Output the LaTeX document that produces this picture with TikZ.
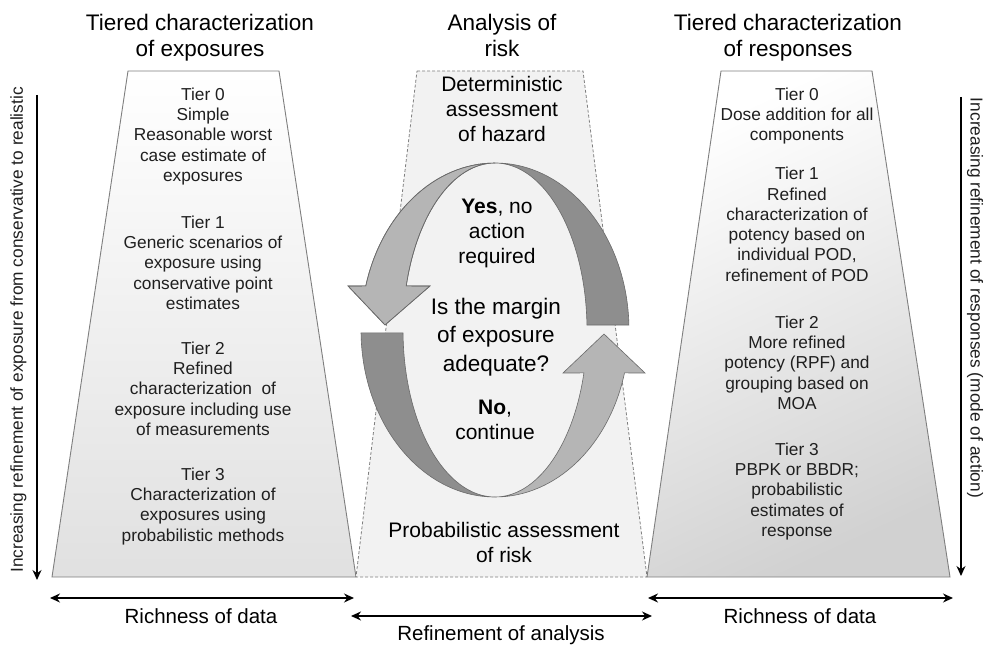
\documentclass[tikz,border=0pt]{standalone}
\usepackage{fontspec}
\setmainfont{Liberation Sans}
\usetikzlibrary{arrows.meta,calc}
\newcommand\fside{\fontsize{17.3}{20.3}\selectfont}
\newcommand\ftitle{\fontsize{22.5}{26}\selectfont}
\newcommand\fmid{\fontsize{21}{25}\selectfont}
\newcommand\fques{\fontsize{22.5}{28.5}\selectfont}
\newcommand\fbot{\fontsize{20.5}{24}\selectfont}
\definecolor{bandlight}{HTML}{B5B5B5}
\definecolor{banddark}{HTML}{8E8E8E}
\definecolor{bandedge}{HTML}{6A6A6A}
\definecolor{trapedge}{HTML}{7F7F7F}
\begin{document}
\begin{tikzpicture}[x=1pt,y=-1pt,
  trap/.style={draw=trapedge, line width=0.9pt},
  ctrap/.style={draw=trapedge, line width=0.8pt, dash pattern=on 3pt off 2pt, fill=black!5},
  lightband/.style={fill=bandlight, draw=bandedge, line width=0.6pt},
  darkband/.style={fill=banddark, draw=bandedge, line width=0.6pt},
  sidetxt/.style={font=\fside, align=center, inner sep=0pt, anchor=north, text=black!88},
  titletxt/.style={font=\ftitle, align=center, inner sep=0pt, anchor=north},
  midtxt/.style={font=\fmid, align=center, inner sep=0pt, anchor=north},
  quest/.style={font=\fques, align=center, inner sep=0pt, anchor=north},
  bottxt/.style={font=\fbot, inner sep=0pt, anchor=base},
  vtxt/.style={font=\fside, inner sep=0pt, text=black!88},
  dblarrow/.style={{Stealth[length=10pt,width=9pt]}-{Stealth[length=10pt,width=9pt]}, line width=1.4pt},
  vertarrow/.style={-{Stealth[length=10pt,width=9pt]}, line width=1.2pt}
]
\useasboundingbox (0,0) rectangle (986,647);

% trapezoids
\draw[trap, top color=white, bottom color=black!12] (128,71) -- (279,71) -- (356,577) -- (52,577) -- cycle;
\draw[ctrap] (417,71) -- (583,71) -- (647,577) -- (356,577) -- cycle;
\draw[trap, top color=white, bottom color=black!18, shading angle=25] (721,71) -- (872,71) -- (950,577) -- (647,577) -- cycle;

% circular arrows
\coordinate (c) at (495,330);
\fill[lightband] ($(c)+(164.7:134pt and 167pt)$)
  arc[start angle=164.7, end angle=90, x radius=134pt, y radius=167pt]
  arc[start angle=90, end angle=164.7, x radius=92pt, y radius=167pt]
  -- (430,286) -- (385,325) -- (348,286) -- cycle;
\filldraw[darkband] ($(c)+(181:134pt and 167pt)$)
  arc[start angle=181, end angle=270, x radius=134pt, y radius=167pt]
  arc[start angle=270, end angle=181, x radius=92pt, y radius=167pt] -- cycle;
\filldraw[darkband] ($(c)+(1.7:134pt and 167pt)$)
  arc[start angle=1.7, end angle=90, x radius=134pt, y radius=167pt]
  arc[start angle=90, end angle=1.7, x radius=92pt, y radius=167pt] -- cycle;
\filldraw[lightband] ($(c)+(-14.9:134pt and 167pt)$)
  arc[start angle=-14.9, end angle=-90, x radius=134pt, y radius=167pt]
  arc[start angle=-90, end angle=-14.9, x radius=92pt, y radius=167pt]
  -- (563,373) -- (604,334) -- (645,373) -- cycle;
\draw[lightband, fill=none] ($(c)+(164.7:134pt and 167pt)$)
  arc[start angle=164.7, end angle=90, x radius=134pt, y radius=167pt]
  arc[start angle=90, end angle=164.7, x radius=92pt, y radius=167pt]
  -- (430,286) -- (385,325) -- (348,286) -- cycle;

% titles
\node[titletxt] (t1) at (200,11.8) {\strut Tiered characterization\\of exposures};
\node[titletxt] (t2) at (502,11.8) {\strut Analysis of\\risk};
\node[titletxt] (t3) at (788,11.8) {\strut Tiered characterization\\of responses};

% left column
\node[sidetxt] (l0) at (203,85.8) {\strut Tier 0\\Simple\\Reasonable worst\\case estimate of\\exposures};
\node[sidetxt] (l1) at (203,213.8) {\strut Tier 1\\Generic scenarios of\\exposure using\\conservative point\\estimates};
\node[sidetxt] (l2) at (203,339.8) {\strut Tier 2\\Refined\\characterization\ \ of\\exposure including use\\of measurements};
\node[sidetxt] (l3) at (203,465.8) {\strut Tier 3\\Characterization of\\exposures using\\probabilistic methods};

% right column
\node[sidetxt] (r0) at (797,85.8) {\strut Tier 0\\Dose addition for all\\components};
\node[sidetxt] (r1) at (797,165.3) {\strut Tier 1\\Refined\\characterization of\\potency based on\\individual POD,\\refinement of POD};
\node[sidetxt] (r2) at (797,313.8) {\strut Tier 2\\More refined\\potency (RPF) and\\grouping based on\\MOA};
\node[sidetxt] (r3) at (797,440.8) {\strut Tier 3\\PBPK or BBDR;\\probabilistic\\estimates of\\response};

% centre texts
\node[midtxt] (m0) at (502,73.5) {\strut Deterministic\\assessment\\of hazard};
\node[midtxt] (m1) at (497,195.5) {\strut\textbf{Yes}, no\\action\\required};
\node[quest] (m2) at (496,294) {\strut Is the margin\\of exposure\\adequate?};
\node[midtxt] (m3) at (495,396.5) {\strut\textbf{No},\\continue};
\node[midtxt] (m4) at (504,519.5) {\strut Probabilistic assessment\\of risk};

% vertical arrows and texts
\coordinate (vla) at (37,95);
\coordinate (vlb) at (37,580);
\coordinate (vra) at (961,97);
\coordinate (vrb) at (961,576);
\draw[vertarrow] (vla) -- (vlb);
\draw[vertarrow] (vra) -- (vrb);
\node[vtxt, rotate=90] (vl) at (18.5,330) {Increasing refinement of exposure from conservative to realistic};
\node[vtxt, rotate=-90] (vr) at (975,298) {Increasing refinement of responses (mode of action)};

% bottom arrows
\coordinate (ba1) at (50,598);
\coordinate (ba2) at (354,598);
\coordinate (bb1) at (351,616);
\coordinate (bb2) at (652,616);
\coordinate (bc1) at (648,598);
\coordinate (bc2) at (953,598);
\draw[dblarrow] (ba1) -- (ba2);
\draw[dblarrow] (bb1) -- (bb2);
\draw[dblarrow] (bc1) -- (bc2);
\node[bottxt] (rd1) at (201,623) {Richness of data};
\node[bottxt] (rd2) at (800,623) {Richness of data};
\node[bottxt] (ra) at (501,640) {Refinement of analysis};
\end{tikzpicture}
\end{document}
